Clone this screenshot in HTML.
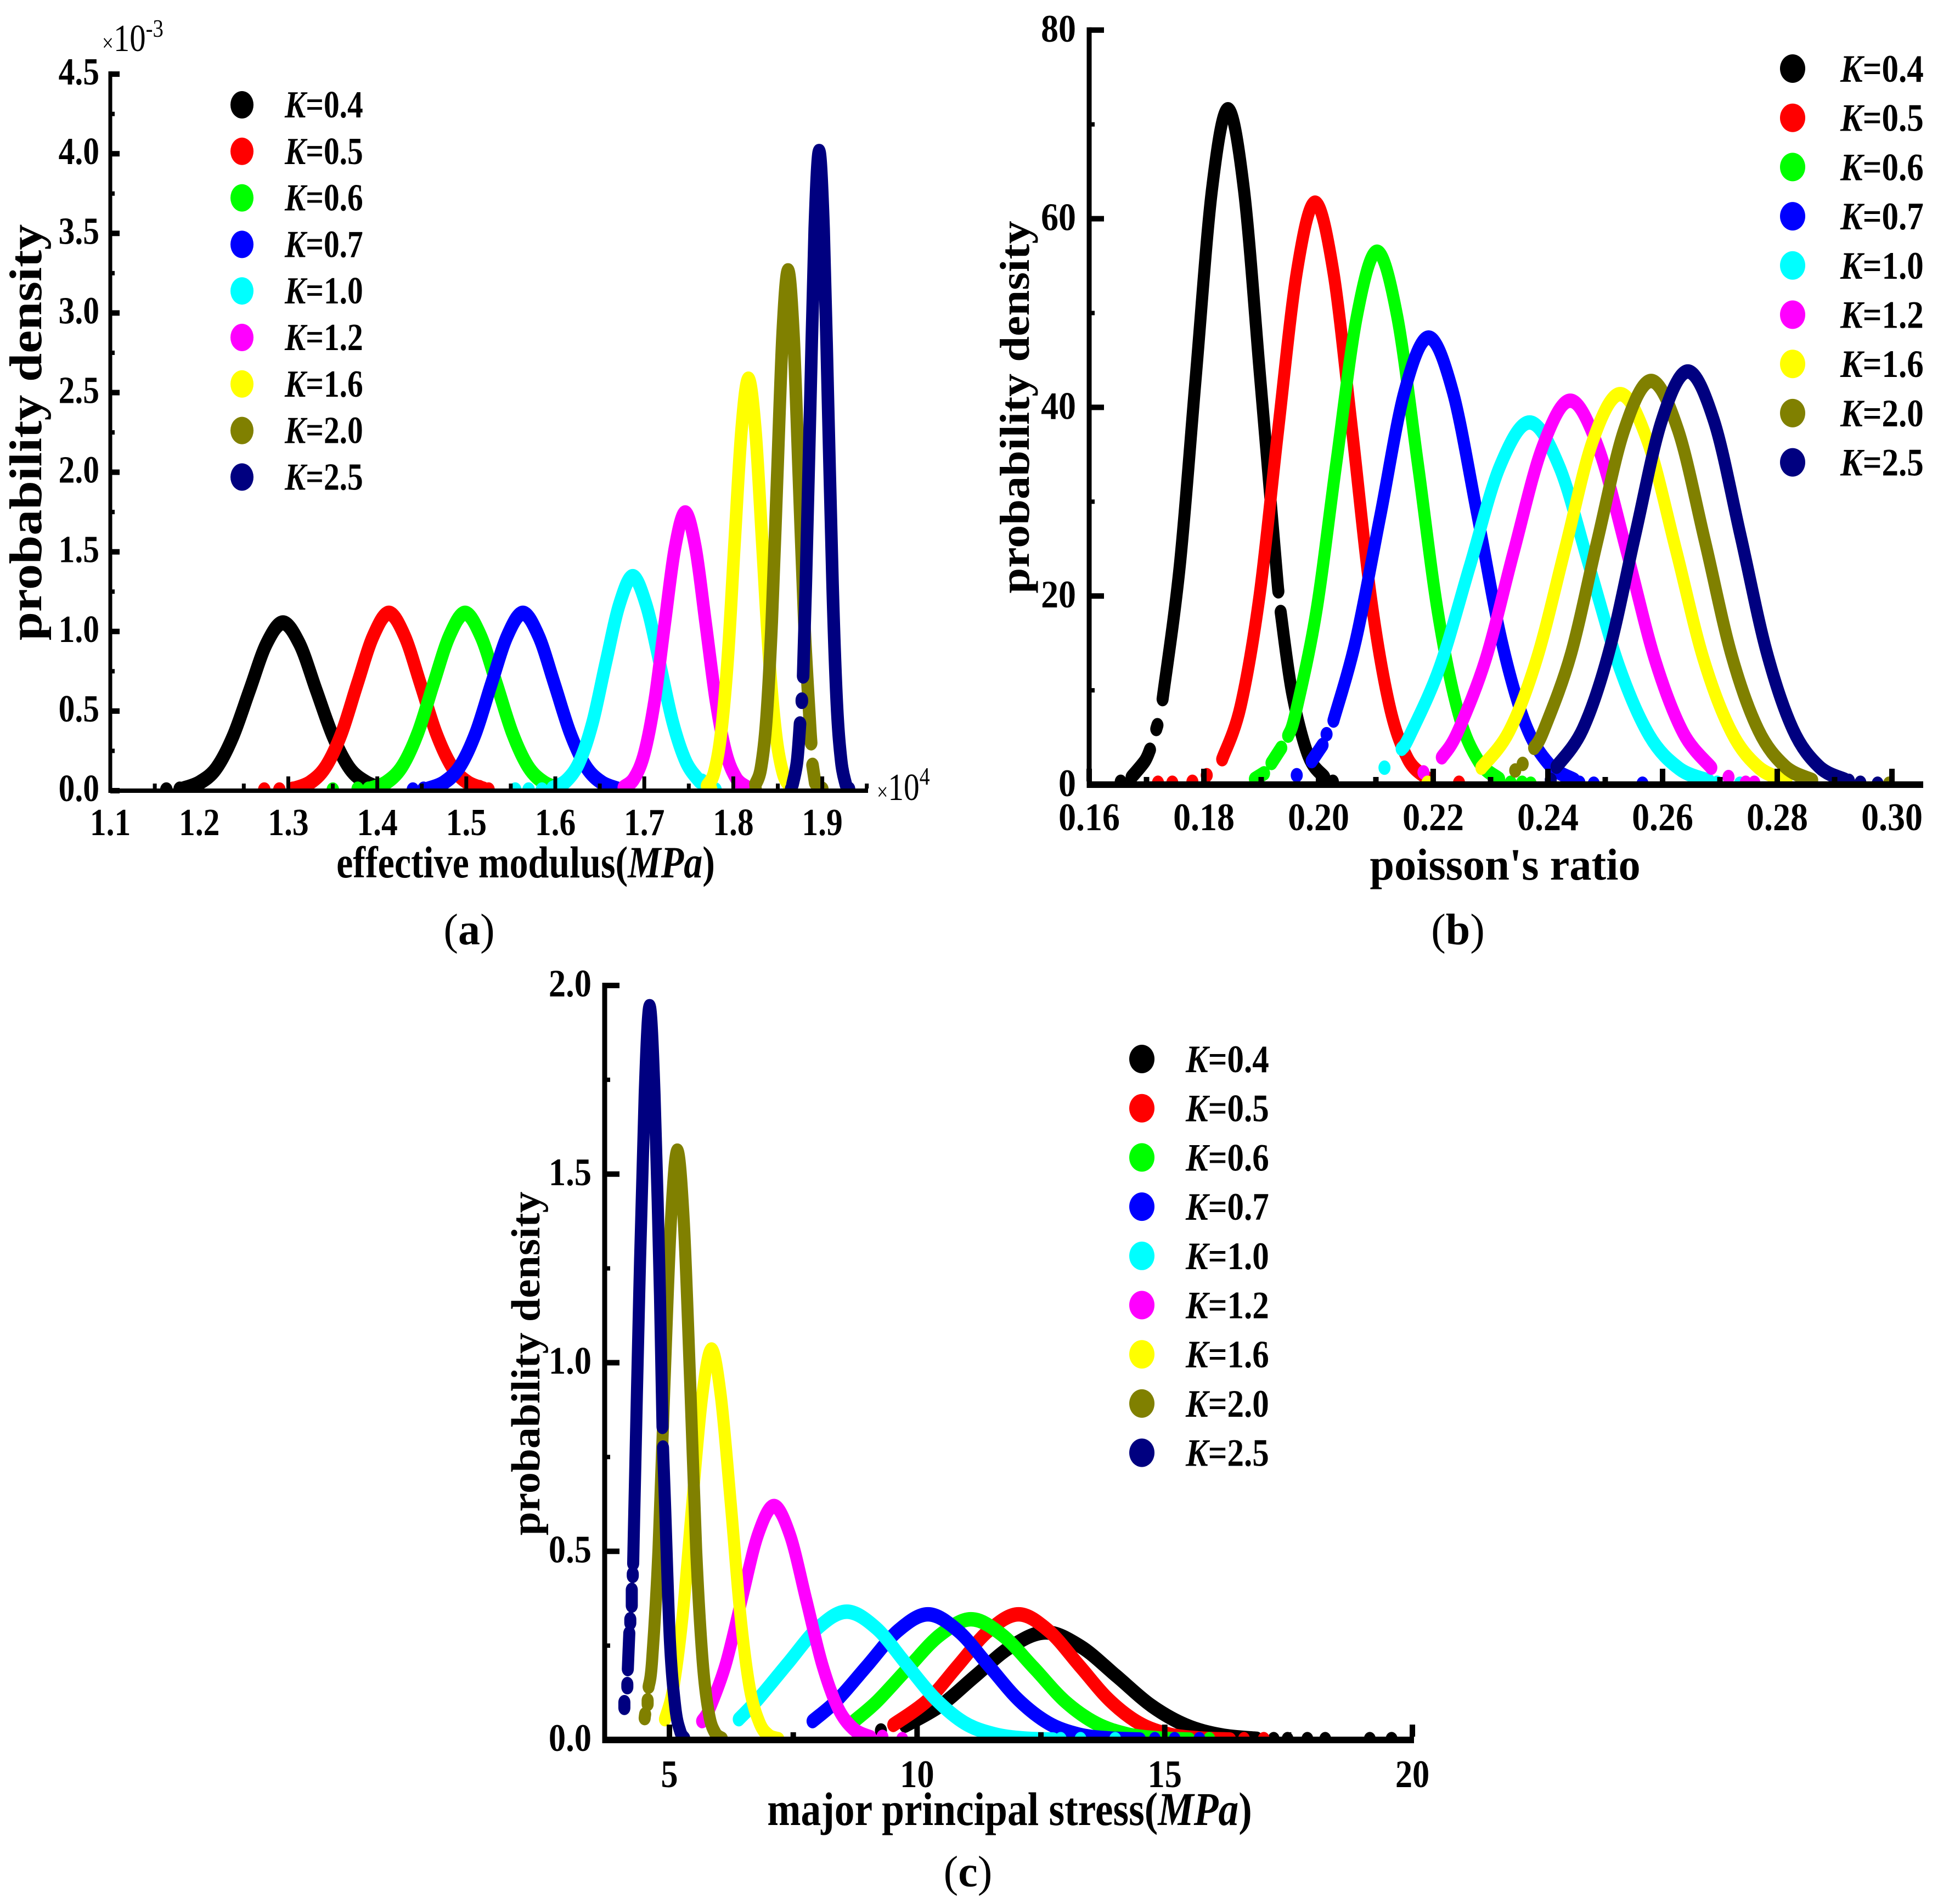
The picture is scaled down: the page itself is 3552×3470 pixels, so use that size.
<!DOCTYPE html>
<html lang="en">
<head>
<meta charset="utf-8">
<title>Probability density charts</title>
<style>
html,body{margin:0;padding:0;background:#fff;}
svg{display:block;}
text{font-family:"Liberation Serif",serif;fill:#000;}
</style>
</head>
<body>
<svg id="fig" xmlns="http://www.w3.org/2000/svg" width="3552" height="3470" viewBox="0 0 3552 3470">
<rect width="3552" height="3470" fill="#fff"/>
<defs>
<clipPath id="clip-a"><rect x="201" y="100" width="1381" height="1341"/></clipPath>
<clipPath id="clip-b"><rect x="1985" y="20" width="1520" height="1410"/></clipPath>
<clipPath id="clip-c"><rect x="1102" y="1760" width="1475" height="1411"/></clipPath>
</defs>
<g id="panel-a"></g>
<g id="panel-b"></g>
<g id="panel-c"></g>

<text transform="translate(958 1599) scale(.83 1)" text-anchor="middle" font-size="82" font-weight="700">effective modulus(<tspan font-style="italic">MPa</tspan>)</text>
<text transform="translate(75 788) rotate(-90) scale(1.12 1)" text-anchor="middle" font-size="84" font-weight="700">probability density</text>
<text transform="translate(186 93) scale(.84 1)" font-size="70"><tspan font-size="44">×</tspan>10<tspan font-size="46" dy="-26">-3</tspan></text>
<text transform="translate(1598 1458) scale(.82 1)" font-size="70"><tspan font-size="44">×</tspan>10<tspan font-size="46" dy="-28">4</tspan></text>
<text x="855" y="1721" text-anchor="middle" font-size="80">(<tspan font-weight="700">a</tspan>)</text>

<text transform="translate(2743 1603) scale(.98 1)" text-anchor="middle" font-size="82" font-weight="700">poisson's ratio</text>
<text transform="translate(1875 742) rotate(-90) scale(1.108 1)" text-anchor="middle" font-size="76" font-weight="700">probability density</text>
<text x="2657" y="1721" text-anchor="middle" font-size="80">(<tspan font-weight="700">b</tspan>)</text>

<text transform="translate(1840 3326) scale(.855 1)" text-anchor="middle" font-size="86" font-weight="700">major principal stress(<tspan font-style="italic">MPa</tspan>)</text>
<text transform="translate(983 2485) rotate(-90) scale(1.05 1)" text-anchor="middle" font-size="74" font-weight="700">probability density</text>
<text x="1764" y="3438" text-anchor="middle" font-size="80">(<tspan font-weight="700">c</tspan>)</text>
</svg>

<script>
const categories = ['0.4','0.5','0.6','0.7','1.0','1.2','1.6','2.0','2.5'];
const seriesColors = ['#000000','#ff0000','#00ff00','#0000ff','#00ffff','#ff00ff','#ffff00','#808000','#000080'];

/* panel (a): effective modulus (x 1e4 MPa), density (x 1e-3); null marks a visible gap in a curve */
const aXTicks = [1.1,1.2,1.3,1.4,1.5,1.6,1.7,1.8,1.9];
const aXMinor = [1.15,1.25,1.35,1.45,1.55,1.65,1.75,1.85,1.95];
const aYTicks = [0,0.5,1,1.5,2,2.5,3,3.5,4,4.5];
const aYMinor = [0.25,0.75,1.25,1.75,2.25,2.75,3.25,3.75,4.25];
const aSeriesX = [
 [1.1815,1.2003,1.219,1.2378,1.2565,1.2753,1.294,1.3128,1.3315,1.3503,1.369,1.3878,1.4065],
 [1.3065,1.3243,1.342,1.3598,1.3775,1.3953,1.413,1.4308,1.4485,1.4663,1.484,1.5018,1.5195],
 [1.392,1.4098,1.4276,1.4454,1.4631,1.4809,1.4986,1.5164,1.5341,1.5519,1.5696,1.5874,1.6051],
 [1.457,1.4748,1.4926,1.5104,1.5281,1.5459,1.5636,1.5814,1.5991,1.6169,1.6346,1.6524,1.6701],
 [1.597,1.612,1.627,1.642,1.657,1.672,1.687,1.702,1.717,1.732,1.747,1.762],
 [1.677,1.6885,1.7,1.7115,1.723,1.7345,1.746,1.7575,1.769,1.7805,1.792,1.8035,1.815],
 [1.7705,1.7783,1.786,1.7938,1.8015,1.8093,1.817,1.8248,1.8325,1.8403,1.848,1.8558,1.8635],
 [1.8249,1.831,1.8371,1.8432,1.8493,1.8554,1.8615,1.8676,1.8737,1.8798,1.8859,1.8875,null,1.889,1.892],
 [1.8666,1.8716,1.875,null,1.877,1.877,null,1.8785,1.8815,1.8865,1.8915,1.8965,1.9015,1.9065,1.9115,1.9164,1.9214,1.9264]
];
const aSeriesY = [
 [0.01,0.05,0.14,0.34,0.63,0.92,1.054,0.92,0.63,0.34,0.14,0.05,0.01],
 [0.01,0.05,0.15,0.36,0.67,0.97,1.115,0.97,0.67,0.36,0.15,0.05,0.01],
 [0.01,0.05,0.15,0.36,0.67,0.97,1.115,0.97,0.67,0.36,0.15,0.05,0.01],
 [0.01,0.05,0.15,0.36,0.67,0.97,1.115,0.97,0.67,0.36,0.15,0.05,0.01],
 [0.015,0.06,0.18,0.43,0.81,1.17,1.345,1.17,0.81,0.43,0.18,0.06],
 [0.02,0.076,0.234,0.562,1.05,1.527,1.745,1.527,1.05,0.562,0.234,0.076,0.02],
 [0.03,0.11,0.35,0.83,1.56,2.27,2.585,2.27,1.56,0.83,0.35,0.11,0.03],
 [0.04,0.14,0.44,1.06,1.97,2.87,3.265,2.87,1.97,1.06,0.44,0.3,null,0.16,0.05],
 [0.04,0.18,0.42,null,0.56,0.57,null,0.72,1.30,2.43,3.53,4.015,3.53,2.43,1.30,0.54,0.18,0.04]
];
const aDotsX = [[1.163,1.178,1.19],[1.273,1.29,1.305,1.515,1.525],[1.35,1.378,1.39],[1.44,1.452],[1.555,1.57,1.585,1.765,1.78],[1.68,1.815],[1.775],[1.825,1.9],[1.865,1.93]];
const aDotsY = [[0.005,0.01,0.01],[0.005,0.005,0.01,0.02,0.005],[0.005,0.01,0.01],[0.005,0.01],[0.005,0.005,0.005,0.06,0.005],[0.01,0.005],[0.01],[0.01,0.01],[0.01,0.01]];

/* panel (b): poisson's ratio */
const bXTicks = [0.16,0.18,0.20,0.22,0.24,0.26,0.28,0.30];
const bXMinor = [0.17,0.19,0.21,0.23,0.25,0.27,0.29];
const bYTicks = [0,20,40,60,80];
const bYMinor = [10,30,50,70];
const bSeriesX = [
 [0.1674,0.1697,0.1706,null,0.1717,0.1719,null,0.1728,0.1758,0.1786,0.1814,0.1842,0.187,0.1898,0.1926,0.193,null,0.1934,0.1954,0.1982,0.201],
 [0.1832,0.1864,0.1897,0.1929,0.1962,0.1994,0.2026,0.2059,0.2091,0.2124,0.2156,0.2189],
 [0.1889,0.1905,null,0.1918,0.1935,null,0.1947,0.196,0.1996,0.2031,0.2067,0.2102,0.2137,0.2173,0.2208,0.2244,0.2279,0.2315],
 [0.1988,0.2007,null,0.2026,0.2065,0.2108,0.215,0.2192,0.2234,0.2277,0.2319,0.2361,0.2403,0.2446],
 [0.2145,0.2159,0.2211,0.2264,0.2316,0.2368,0.242,0.2472,0.2525,0.2577,0.2629,0.2681],
 [0.2215,0.2242,0.2291,0.234,0.239,0.2439,0.2488,0.2538,0.2587,0.2636,0.2685],
 [0.2284,0.2332,0.2381,0.243,0.2478,0.2526,0.2574,0.2623,0.2671,0.272,0.2768,0.2816],
 [0.2376,0.2393,0.244,0.2486,0.2533,0.258,0.2627,0.2674,0.272,0.2767,0.2814,0.2861],
 [0.2415,0.2461,0.2507,0.2552,0.2598,0.2644,0.269,0.2736,0.2781,0.2827,0.2873,0.2919]
];
const bSeriesY = [
 [0.8,2.5,3.7,null,5.9,6.3,null,9.07,23.2,43.3,63,71.6,63,43.3,23.2,20.5,null,18.3,9.7,3.1,0.8],
 [2.7,8.3,20,37.3,54.3,61.7,54.3,37.3,20,8.3,2.7,0.7],
 [0.6,1.2,null,2.3,3.9,null,5.2,7.6,18.3,34.1,49.7,56.5,49.7,34.1,18.3,7.6,2.5,0.6],
 [2.5,4.2,null,6.8,15.3,28.6,41.7,47.4,41.7,28.6,15.3,6.4,2.1,0.5],
 [3.8,5.2,12.4,23.2,33.7,38.4,33.7,23.2,12.4,5.2,1.7,0.4],
 [2.9,5.5,13.2,24.6,35.7,40.7,35.7,24.6,13.2,5.5,1.8],
 [1.8,5.6,13.4,25,36.4,41.4,36.4,25,13.4,5.6,1.8,0.46],
 [3.9,5.8,13.8,25.8,37.6,42.8,37.6,25.8,13.8,5.8,1.9,0.47],
 [1.9,5.9,14.2,26.4,38.5,43.8,38.5,26.4,14.2,5.9,1.9,0.48]
];
const bDotsX = [[0.1655,0.2025],[0.172,0.1745,0.178,0.1805,0.2245],[0.2335,0.2355,0.237],[0.1962,0.2014,0.2455,0.248,0.2565],[0.2115,0.2695,0.2735],[0.2183,0.2715,0.2745,0.276],[0.219],[0.2343,0.2356,0.2995],[0.2405,0.2925,0.2945,0.2975]];
const bDotsY = [[0.3,0.3],[0.2,0.2,0.3,1,0.2],[0.2,0.2,0.1],[1,5.35,0.2,0.1,0.1],[1.8,0.2,0.1],[1.3,0.8,0.2,0.2],[0.2],[1.5,2.2,0.1],[0.5,0.4,0.2,0.1]];

/* panel (c): major principal stress */
const cXTicks = [5,10,15,20];
const cXMinor = [7.5,12.5,17.5];
const cYTicks = [0,0.5,1,1.5,2];
const cYMinor = [0.25,0.75,1.25,1.75];
const cSeriesX = [
 [9.76,10.47,11.18,11.89,12.6,13.31,14.02,14.73,15.44,16.15,16.86],
 [9.52,10.22,10.83,11.44,12.05,12.66,13.27,13.88,14.49,15.1,15.71,16.32],
 [8.73,9.19,9.82,10.46,11.09,11.72,12.36,12.99,13.63,14.27,14.9,15.5],
 [7.89,8.39,9.0,9.61,10.22,10.83,11.44,12.05,12.66,13.27,13.88,14.5],
 [6.4,6.795,7.39,7.99,8.58,9.18,9.77,10.37,10.96,11.56,12.15,12.75],
 [5.66,5.81,6.135,6.46,6.785,7.11,7.435,7.76,8.085,8.41,8.735,9.06],
 [4.91,5.08,5.27,5.46,5.66,5.85,6.04,6.24,6.43,6.62,6.82,7.01,7.2],
 [4.5,4.51,null,4.56,4.56,null,4.58,4.65,4.78,4.90,5.03,5.16,5.29,5.42,5.54,5.67,5.8,5.93,6.06],
 [4.09,4.09,null,4.15,4.15,null,4.16,4.19,null,4.21,4.21,null,4.24,4.24,null,4.26,4.26,null,4.27,4.28,4.39,4.5,4.6,4.7,4.81,4.86,null,4.87,4.91,5.01,5.12,5.22,5.3]
];
const cSeriesY = [
 [0.038,0.091,0.17,0.247,0.285,0.247,0.17,0.091,0.038,0.012,0.003],
 [0.04,0.106,0.198,0.289,0.333,0.289,0.198,0.106,0.044,0.014,0.004,0.001],
 [0.05,0.102,0.191,0.278,0.32,0.278,0.191,0.102,0.043,0.014,0.004,0.001],
 [0.05,0.106,0.198,0.289,0.333,0.289,0.198,0.106,0.044,0.014,0.004,0.001],
 [0.055,0.109,0.203,0.296,0.34,0.296,0.203,0.109,0.045,0.015,0.004,0.001],
 [0.05,0.083,0.2,0.373,0.543,0.62,0.543,0.373,0.2,0.083,0.027,0.007],
 [0.055,0.139,0.334,0.625,0.909,1.035,0.909,0.625,0.334,0.139,0.045,0.011,0.002],
 [0.058,0.068,null,0.095,0.105,null,0.141,0.21,0.506,0.944,1.374,1.562,1.374,0.944,0.506,0.21,0.068,0.017,0.003],
 [0.085,0.1,null,0.14,0.148,null,0.188,0.283,null,0.31,0.32,null,0.356,0.398,null,0.435,0.44,null,0.475,0.54,1.177,1.712,1.945,1.712,1.177,0.83,null,0.775,0.63,0.262,0.085,0.022,0.004]
];
const cDotsX = [[9.27,17.2,17.48,17.88,18.24,19.14,19.58],[16.6,17.0],[15.9],[14.8,15.2,15.7],[12.9,13.3,14.0],[9.3,9.7],[],[],[]];
const cDotsY = [[0.025,0.002,0.002,0.002,0.002,0.002,0.002],[0.002,0.002],[0.002],[0.002,0.002,0.002],[0.002,0.002,0.002],[0.008,0.002],[],[],[]];

const NS = 'http://www.w3.org/2000/svg';
const PEN_STRETCH = 1.2;

function make(parent, tag, attrs) {
  const el = document.createElementNS(NS, tag);
  for (const k in attrs) el.setAttribute(k, attrs[k]);
  parent.appendChild(el);
  return el;
}

function smoothPath(pts) {
  let d = 'M' + pts[0][0].toFixed(1) + ' ' + pts[0][1].toFixed(1);
  for (let i = 0; i < pts.length - 1; i++) {
    const p0 = pts[Math.max(i - 1, 0)], p1 = pts[i], p2 = pts[i + 1], p3 = pts[Math.min(i + 2, pts.length - 1)];
    const c1x = p1[0] + (p2[0] - p0[0]) / 6, c1y = p1[1] + (p2[1] - p0[1]) / 6;
    const c2x = p2[0] - (p3[0] - p1[0]) / 6, c2y = p2[1] - (p3[1] - p1[1]) / 6;
    d += 'C' + c1x.toFixed(1) + ' ' + c1y.toFixed(1) + ' ' + c2x.toFixed(1) + ' ' + c2y.toFixed(1) + ' ' + p2[0].toFixed(1) + ' ' + p2[1].toFixed(1);
  }
  return d;
}

function drawPanel(id, g) {
  const root = document.getElementById('panel-' + id);
  const X = v => g.x0 + (v - g.xv0) * g.xk;
  const Y = v => g.y0 - v * g.yk;

  const clip = make(root, 'g', {'clip-path': 'url(#clip-' + id + ')'});
  
  
  const marks = make(clip, 'g', {transform: 'scale(1 ' + PEN_STRETCH + ')'});
  
  

  g.seriesX.forEach((xs, i) => {
    const segments = [[]];
    xs.forEach((x, j) => {
      if (x === null) { segments.push([]); return; }
      segments[segments.length - 1].push([X(x), Y(g.seriesY[i][j]) / PEN_STRETCH]);
    });
    const d = segments.map(smoothPath).join('');
    const path = make(marks, 'path', {d: d, fill: 'none', stroke: seriesColors[i], 'stroke-width': g.sw, 'stroke-linecap': 'round', 'stroke-linejoin': 'round'});
    
    
    g.dotsX[i].forEach((x, j) => {
      const dot = make(marks, 'circle', {cx: X(x), cy: Y(g.dotsY[i][j]) / PEN_STRETCH, r: g.sw / 2, fill: seriesColors[i]});
      
      
    });
  });

  const yAxis = make(root, 'rect', {x: g.left - g.axW / 2, y: Y(g.yTop) - g.tkH / 2, width: g.axW, height: g.y0 - Y(g.yTop) + g.tkH / 2 + g.axH / 2, fill: '#000'});
  
  
  const xAxis = make(root, 'rect', {x: g.left - g.axW / 2, y: g.y0 - g.axH / 2, width: g.right - g.left + g.axW / 2, height: g.axH, fill: '#000'});
  
  

  g.xTicks.forEach(v => {
    const t = make(root, 'rect', {x: X(v) - g.tkW / 2, y: g.y0 - g.axH / 2 - g.xMajor, width: g.tkW, height: g.xMajor, fill: '#000'});
    
    
    const lab = make(root, 'text', {transform: 'translate(' + X(v) + ' ' + g.xLabY + ') scale(' + g.sx + ' 1)', 'text-anchor': 'middle', 'font-size': g.fs, 'font-weight': 700});
    lab.textContent = v.toFixed(g.xDec);
    
    
  });
  g.xMinorTicks.forEach(v => {
    const t = make(root, 'rect', {x: X(v) - g.tkW / 2, y: g.y0 - g.axH / 2 - g.xMinor, width: g.tkW, height: g.xMinor, fill: '#000'});
    
    
  });
  g.yTicks.forEach(v => {
    const t = make(root, 'rect', {x: g.left, y: Y(v) - g.tkH / 2, width: g.yMajor, height: g.tkH, fill: '#000'});
    
    
    const lab = make(root, 'text', {transform: 'translate(' + g.yLabX + ' ' + (Y(v) + g.yLabDy) + ') scale(' + g.sx + ' 1)', 'text-anchor': 'end', 'font-size': g.fs, 'font-weight': 700});
    lab.textContent = v.toFixed(g.yDec);
    
    
  });
  g.yMinorTicks.forEach(v => {
    const t = make(root, 'rect', {x: g.left, y: Y(v) - g.tkH / 2 + 1, width: g.yMinorLen, height: g.tkH - 2, fill: '#000'});
    
    
  });

  categories.forEach((c, i) => {
    const cy = g.legY + i * g.legStep;
    const entry = make(root, 'g', {});
    
    
    const m = make(entry, 'ellipse', {cx: g.legX, cy: cy, rx: g.legRx, ry: g.legRy, fill: seriesColors[i]});
    
    
    const txt = make(entry, 'text', {transform: 'translate(' + g.legTx + ' ' + (cy + g.legDy) + ') scale(' + g.legSx + ' 1)', 'font-size': g.fs, 'font-weight': 700});
    const k = make(txt, 'tspan', {'font-style': 'italic'});
    k.textContent = 'K';
    txt.appendChild(document.createTextNode('=' + c));
    
    
  });
}

drawPanel('a', {x0: 201, xv0: 1.1, xk: 1622, y0: 1441, yk: 290.2, yTop: 4.5, left: 201, right: 1582, axW: 7, axH: 8, tkW: 7, tkH: 10, xMajor: 22, xMinor: 9, yMajor: 17, yMinorLen: 8, sw: 23, sx: 0.85, fs: 70, xDec: 1, yDec: 1, xLabY: 1522, yLabX: 181, yLabDy: 19, legX: 441, legY: 191, legStep: 84.8, legRx: 21, legRy: 25, legTx: 519, legDy: 23, legSx: 0.82, seriesX: aSeriesX, seriesY: aSeriesY, dotsX: aDotsX, dotsY: aDotsY, xTicks: aXTicks, xMinorTicks: aXMinor, yTicks: aYTicks, yMinorTicks: aYMinor});
drawPanel('b', {x0: 1985, xv0: 0.16, xk: 10450, y0: 1430, yk: 17.19, yTop: 80, left: 1985, right: 3505, axW: 9, axH: 12, tkW: 10, tkH: 10, xMajor: 23, xMinor: 8, yMajor: 27, yMinorLen: 10, sw: 22, sx: 0.9, fs: 71, xDec: 2, yDec: 0, xLabY: 1513, yLabX: 1961, yLabDy: 21, legX: 3267, legY: 125, legStep: 89.7, legRx: 23, legRy: 26, legTx: 3354, legDy: 24, legSx: 0.86, seriesX: bSeriesX, seriesY: bSeriesY, dotsX: bDotsX, dotsY: bDotsY, xTicks: bXTicks, xMinorTicks: bXMinor, yTicks: bYTicks, yMinorTicks: bYMinor});
drawPanel('c', {x0: 1220, xv0: 5, xk: 90.27, y0: 3171, yk: 687.5, yTop: 2, left: 1102, right: 2577, axW: 9, axH: 12, tkW: 10, tkH: 10, xMajor: 22, xMinor: 8, yMajor: 27, yMinorLen: 10, sw: 22, sx: 0.88, fs: 71, xDec: 0, yDec: 1, xLabY: 3257, yLabX: 1078, yLabDy: 20, legX: 2081, legY: 1930, legStep: 89.7, legRx: 23, legRy: 26, legTx: 2161, legDy: 24, legSx: 0.86, seriesX: cSeriesX, seriesY: cSeriesY, dotsX: cDotsX, dotsY: cDotsY, xTicks: cXTicks, xMinorTicks: cXMinor, yTicks: cYTicks, yMinorTicks: cYMinor});
</script>
</body>
</html>
